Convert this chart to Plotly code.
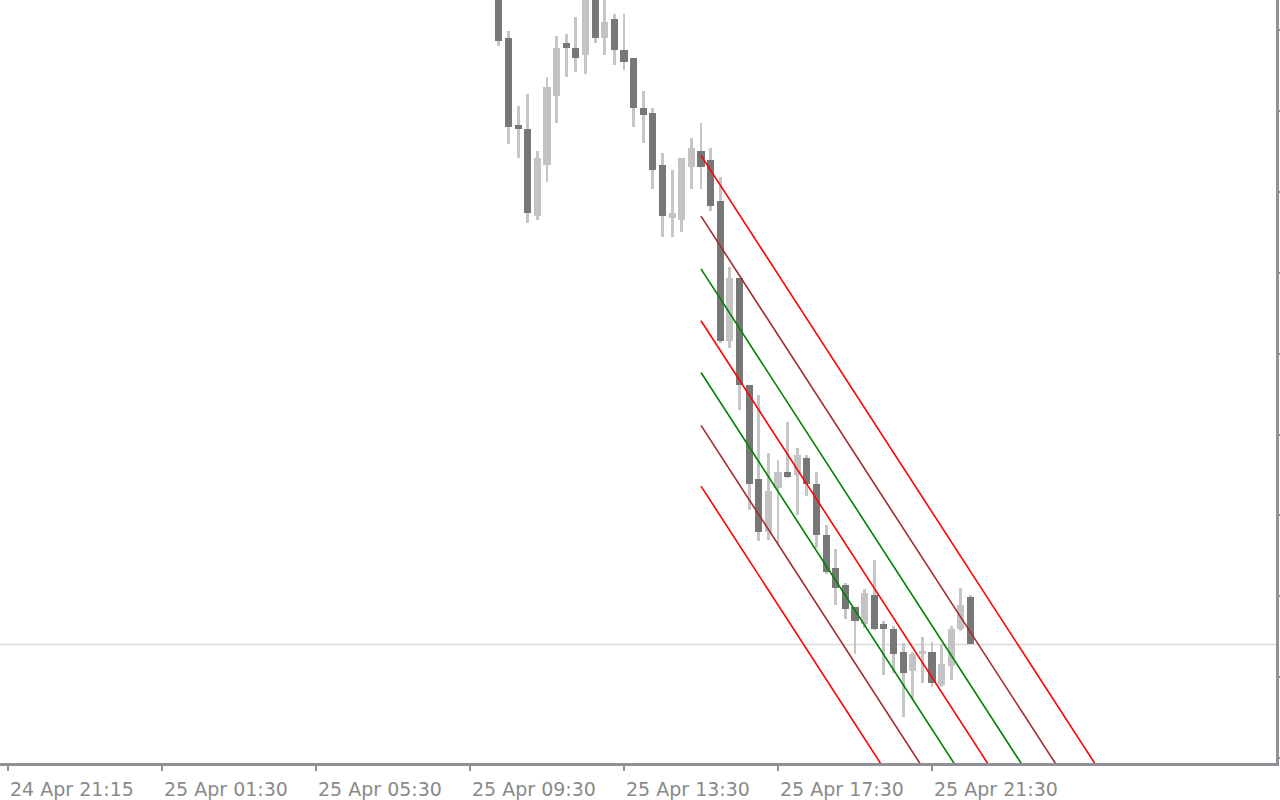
import plotly.graph_objects as go

# ---- data (bar index on a 15-minute timeline, price in chart points) ----
bar_index = list(range(51, 101))
opens = [786, 728, 641, 636, 549, 600, 670, 723, 718, 711,
         772, 728, 747, 716, 708, 658, 653, 600, 547, 545,
         598, 614, 605, 564, 424, 487, 379, 285, 232, 276,
         292, 289, 306, 280, 229, 196, 179, 157, 140, 169,
         140, 135, 111, 92, 109, 111, 78, 97, 135, 167]
highs = [800, 735, 660, 672, 614, 689, 730, 732, 749, 790,
         780, 770, 752, 752, 708, 675, 658, 612, 595, 607,
         627, 643, 617, 588, 498, 487, 379, 369, 311, 304,
         342, 316, 309, 292, 239, 215, 181, 157, 175, 204,
         143, 138, 120, 111, 126, 121, 119, 138, 176, 169]
lows = [720, 621, 607, 542, 545, 583, 643, 689, 694, 692,
        723, 711, 701, 696, 639, 622, 576, 528, 528, 533,
        576, 576, 554, 422, 417, 354, 254, 223, 224, 221,
        286, 249, 268, 216, 190, 159, 145, 109, 136, 134,
        88, 90, 46, 64, 80, 76, 76, 83, 133, 119]
closes = [725, 639, 636, 552, 607, 679, 718, 718, 708, 775,
          728, 744, 716, 704, 658, 651, 595, 549, 552, 607,
          617, 598, 559, 424, 487, 379, 280, 232, 273, 292,
          287, 309, 280, 229, 192, 176, 155, 143, 171, 135,
          135, 109, 90, 109, 111, 80, 99, 135, 159, 119]

tick_index = [0, 16, 32, 48, 64, 80, 96]
tick_labels = ["24 Apr 21:15", "25 Apr 01:30", "25 Apr 05:30", "25 Apr 09:30",
               "25 Apr 13:30", "25 Apr 17:30", "25 Apr 21:30"]

# standard deviation channel
chan_start = 72
chan_end = 140
chan_center0 = 444
chan_slope = -14.92
chan_devs = [166, 105, 52, 0, -52, -105, -166]
chan_colors = ["#ff0000", "#a52a2a", "#008000", "#ff0000", "#008000", "#a52a2a", "#ff0000"]

bid_price = 119

# ---- styles ----
BULL = "#c3c3c3"
BEAR = "#777777"
WICK = "#c6c6c6"
AXIS = "#8f9196"

fig = go.Figure()

# wicks
fig.add_trace(go.Bar(
    x=bar_index,
    base=lows,
    y=[h - l for h, l in zip(highs, lows)],
    width=0.3,
    marker=dict(color=WICK, line=dict(width=0)),
    hoverinfo="skip", showlegend=False,
))

# bodies
body_base = [min(o, c) for o, c in zip(opens, closes)]
body_len = [max(abs(c - o), 3) for o, c in zip(opens, closes)]
body_col = [BULL if c > o else BEAR for o, c in zip(opens, closes)]
fig.add_trace(go.Bar(
    x=bar_index,
    base=body_base,
    y=body_len,
    width=0.73,
    marker=dict(color=body_col, line=dict(width=0)),
    hoverinfo="skip", showlegend=False,
))

# channel lines
for d, col in zip(chan_devs, chan_colors):
    fig.add_trace(go.Scatter(
        x=[chan_start, chan_end],
        y=[chan_center0 + d, chan_center0 + d + chan_slope * (chan_end - chan_start)],
        mode="lines",
        line=dict(color=col, width=1.6),
        hoverinfo="skip", showlegend=False,
    ))

# bid line
fig.add_shape(type="line", xref="paper", x0=0, x1=1, yref="y", y0=bid_price, y1=bid_price,
              line=dict(color="#d9d9d9", width=1.5), layer="below")

fig.update_layout(
    width=1280, height=800,
    margin=dict(l=0, r=4, t=0, b=34, pad=0),
    paper_bgcolor="white", plot_bgcolor="white",
    barmode="overlay",
    bargap=0,
    showlegend=False,
    font=dict(family="DejaVu Sans", size=19, color="#8a8a8a"),
    xaxis=dict(
        range=[-0.831, 131.74],
        showgrid=False, zeroline=False,
        showline=True, linecolor=AXIS, linewidth=2.5,
        ticks="outside", ticklen=5, tickwidth=1.5, tickcolor=AXIS,
        tickvals=tick_index, ticktext=tick_labels,
        ticklabelposition="outside right",
        ticklabelstandoff=7,
        tickfont=dict(family="DejaVu Sans", size=19, color="#8a8a8a"),
        fixedrange=True,
    ),
    yaxis=dict(
        range=[0, 766],
        side="right",
        showgrid=False, zeroline=False,
        showline=True, linecolor=AXIS, linewidth=2.5,
        ticks="outside", ticklen=4, tickwidth=1.5, tickcolor=AXIS,
        tick0=4.75, dtick=81.25,
        showticklabels=False,
        fixedrange=True,
    ),
)

fig.write_html(
    "out.html",
    config={"displayModeBar": False},
    post_script="document.body.style.margin='0';document.body.style.overflow='hidden';",
)
